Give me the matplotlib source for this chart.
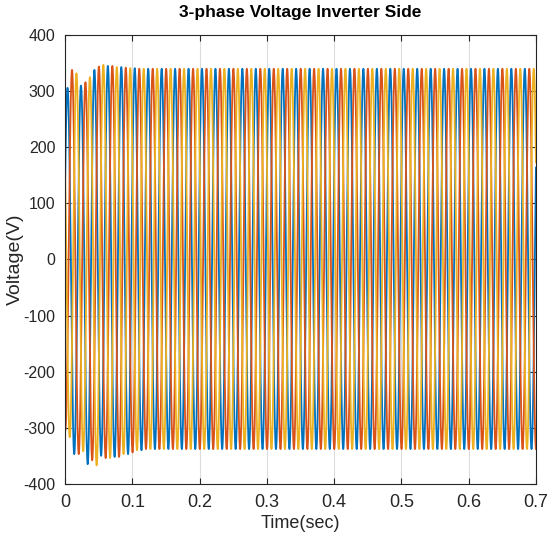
import numpy as np
import matplotlib
matplotlib.use("Agg")
import matplotlib.pyplot as plt

# ---- data ----
title = "3-phase Voltage Inverter Side"
xlabel = "Time(sec)"
ylabel = "Voltage(V)"
freq_hz = 50.0
t_end = 0.7
x_ticks = [0, 0.1, 0.2, 0.3, 0.4, 0.5, 0.6, 0.7]
y_ticks = [-400, -300, -200, -100, 0, 100, 200, 300, 400]

# centre time and sign of the half-cycle that contains t=0, for each phase
phase_a_first_peak_t = 0.0034
phase_a_first_sign = 1
phase_b_first_peak_t = 0.0001
phase_b_first_sign = -1
phase_c_first_peak_t = -0.0033
phase_c_first_sign = 1

# magnitudes of successive half-cycle peaks (transient), then steady state
phase_a_peaks = [306, 347, 310, 365, 338, 350, 345, 352, 343, 347, 341, 340]
phase_b_peaks = [305, 338, 347, 316, 358, 344, 354, 345, 352, 342, 344, 340]
phase_c_peaks = [300, 317, 332, 342, 325, 367, 347, 354, 343, 347, 341, 340]
steady_pos = 340
steady_neg = 338

colors = ["#0072BD", "#D95319", "#EDB120"]


def build_phase(t, t0, sign0, peaks):
    half = 0.5 / freq_hz
    k = np.floor((t - t0 + half / 2) / half).astype(int)
    hc_sign = sign0 * np.where(k % 2 == 0, 1, -1)
    amp = np.where(hc_sign > 0, steady_pos, steady_neg).astype(float)
    pk = np.asarray(peaks, dtype=float)
    inside = (k >= 0) & (k < len(pk))
    amp[inside] = pk[k[inside]]
    return sign0 * amp * np.cos(2 * np.pi * freq_hz * (t - t0))


t = np.linspace(0, t_end, 70001)
va = build_phase(t, phase_a_first_peak_t, phase_a_first_sign, phase_a_peaks)
vb = build_phase(t, phase_b_first_peak_t, phase_b_first_sign, phase_b_peaks)
vc = build_phase(t, phase_c_first_peak_t, phase_c_first_sign, phase_c_peaks)

plt.rcParams['font.family'] = ['Liberation Sans', 'DejaVu Sans']
plt.rcParams['axes.unicode_minus'] = False

fig = plt.figure(figsize=(5.48, 5.40), dpi=100)
ax = fig.add_axes([0.119, 0.104, 0.859, 0.831])

for v, c in zip([va, vb, vc], colors):
    ax.plot(t, v, color=c, lw=1.3)

ax.set_xlim(0, t_end)
ax.set_ylim(-400, 400)
ax.set_xticks(x_ticks)
ax.set_xticklabels([f"{v:g}" for v in x_ticks])
ax.set_yticks(y_ticks)
ax.grid(True, color="#dcdcdc", lw=0.8)
ax.set_axisbelow(True)
for s in ax.spines.values():
    s.set_color("#262626")
    s.set_linewidth(0.8)
ax.tick_params(axis="x", direction="in", top=True, length=4,
               labelsize=13, colors="#262626", pad=7)
ax.tick_params(axis="y", direction="in", right=True, length=4,
               labelsize=11.5, colors="#262626", pad=7)
ax.set_title(title, fontsize=12.5, fontweight="bold", pad=13)
ax.set_xlabel(xlabel, fontsize=13, color="#262626", labelpad=3)
ax.set_ylabel(ylabel, fontsize=14, color="#262626")
ax.yaxis.set_label_coords(-0.087, 0.5)

fig.savefig("out.png", dpi=100)
